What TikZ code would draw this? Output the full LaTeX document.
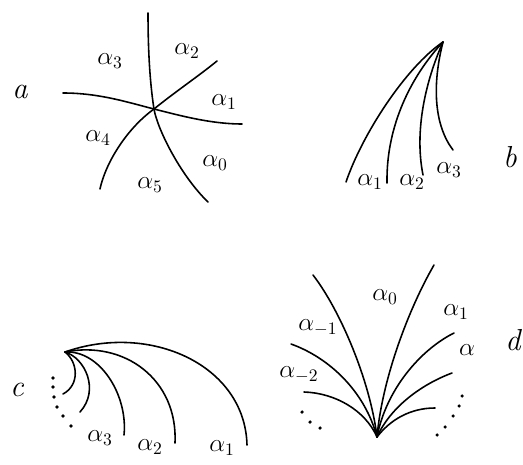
\documentclass[tikz,border=0pt]{standalone}
\usetikzlibrary{positioning}
\tikzset{
  fan curve/.style={line width=0.9pt, line cap=round},
  fan label/.style={font=\Large, inner sep=0pt},
  fan panel/.style={font=\LARGE\itshape, inner sep=0pt},
  fan dot/.style={fill, circle, inner sep=0pt, minimum size=2pt}
}
\newcommand{\al}[1]{$\alpha_{#1}$}

\begin{document}
\begin{tikzpicture}[x=0.02cm, y=-0.02cm]
\useasboundingbox (0,0) rectangle (523,465);

% panel a
\coordinate (aO) at (154,109);
\draw[fan curve] (148,13) .. controls (148,60) and (151,90) .. (aO)
  .. controls (157,128) and (180,175) .. (208,202);
\draw[fan curve] (63,93) .. controls (100,93) and (130,103) .. (aO)
  .. controls (178,115) and (210,124) .. (242,124);
\draw[fan curve] (aO) .. controls (175,92) and (200,75) .. (217,61);
\draw[fan curve] (aO) .. controls (125,130) and (105,165) .. (100,189);
\node[fan panel] (pa) at (20,92) {a};
\node[fan label] (a0) at (215,163) {\al{0}};
\node[fan label] (a1) at (224,102) {\al{1}};
\node[fan label] (a2) at (187,51) {\al{2}};
\node[fan label] (a3) at (110,61) {\al{3}};
\node[fan label] (a4) at (98,138) {\al{4}};
\node[fan label] (a5) at (150,185) {\al{5}};

% panel b
\coordinate (bO) at (443,42);
\draw[fan curve] (bO) .. controls (405,68) and (362,135) .. (346,182);
\draw[fan curve] (bO) .. controls (412,75) and (386,125) .. (387,183);
\draw[fan curve] (bO) .. controls (426,80) and (414,130) .. (423,175);
\draw[fan curve] (bO) .. controls (432,85) and (434,125) .. (453,150);
\node[fan label] (b1) at (370,182) {\al{1}};
\node[fan label] (b2) at (412,182) {\al{2}};
\node[fan label] (b3) at (449,170) {\al{3}};
\node[fan panel] (pb) at (510,157) {b};

% panel c
\coordinate (cO) at (65,352);
\draw[fan curve] (cO) .. controls (150,322) and (245,365) .. (247,445);
\draw[fan curve] (cO) .. controls (125,340) and (178,380) .. (175,443);
\draw[fan curve] (cO) .. controls (100,350) and (128,395) .. (124,435);
\draw[fan curve] (cO) .. controls (85,358) and (100,390) .. (80,412);
\draw[fan curve] (cO) .. controls (78,362) and (80,385) .. (63,394);
\foreach \p in {(53,378),(53,387),(54,397),(57,407),(63,416),(71,426)}
  \node[fan dot] at \p {};
\node[fan panel] (pc) at (17,390) {c};
\node[fan label] (c3) at (100,438) {\al{3}};
\node[fan label] (c2) at (150,447) {\al{2}};
\node[fan label] (c1) at (222,448) {\al{1}};

% panel d
\coordinate (dO) at (377,437);
\draw[fan curve] (dO) .. controls (370,380) and (340,310) .. (313,275);
\draw[fan curve] (dO) .. controls (382,380) and (408,310) .. (434,265);
\draw[fan curve] (dO) .. controls (365,392) and (330,358) .. (291,344);
\draw[fan curve] (dO) .. controls (386,390) and (420,350) .. (454,333);
\draw[fan curve] (dO) .. controls (365,410) and (335,393) .. (304,392);
\draw[fan curve] (dO) .. controls (390,408) and (420,385) .. (452,373);
\draw[fan curve] (dO) .. controls (390,420) and (410,408) .. (435,408);
\foreach \p in {(302,412),(310,422),(320,428),(437,435),(445,427),(453,416),(459,406),(462,396)}
  \node[fan dot] at \p {};
\node[fan label] (d0) at (385,297) {\al{0}};
\node[fan label] (d1) at (456,312) {\al{1}};
\node[fan label] (dd) at (467,350) {$\alpha$};
\node[fan label] (dm1) at (318,328) {\al{-1}};
\node[fan label] (dm2) at (299,375) {\al{-2}};
\node[fan panel] (pd) at (513,340) {d};
\end{tikzpicture}
\end{document}
